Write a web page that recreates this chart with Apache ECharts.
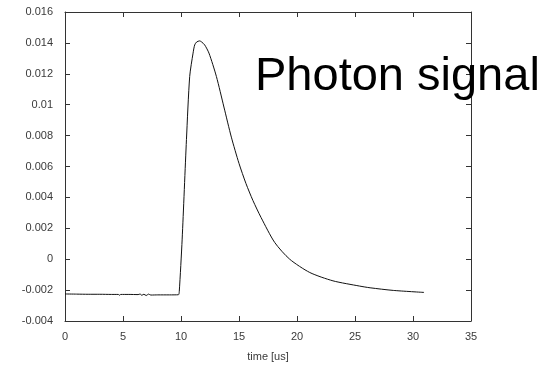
<!DOCTYPE html>
<html>
<head>
<meta charset="utf-8">
<script src="https://cdn.jsdelivr.net/npm/echarts@6/dist/echarts.min.js"></script>
<style>html,body{margin:0;padding:0;background:#fff}#c{width:550px;height:367px}</style>
</head>
<body>
<div id="c"></div>
<script>
var timeUs = [0, 1, 2, 3, 4, 4.6, 4.7, 4.8, 5.5, 6.3, 6.5, 6.6, 6.8, 7.0, 7.2, 7.4, 8, 9, 9.78,
  9.85, 10.1, 10.47, 10.75, 11.04, 11.18, 11.35, 11.61, 11.78, 12.04, 12.41, 13.05, 13.7, 14.34,
  15.0, 15.6, 16.2, 16.9, 18.08, 19.37, 21.1, 23.1, 25.4, 26.3, 28.3, 30.95];
var signal = [-0.00225, -0.00226, -0.00227, -0.00227, -0.00228, -0.00228, -0.00233, -0.00228, -0.00228, -0.00229, -0.00225, -0.00234, -0.00227, -0.00235, -0.00226, -0.00232, -0.00231, -0.00231, -0.0023,
  -0.0021, 0.0013, 0.00774, 0.01183, 0.01334, 0.01387, 0.01406, 0.01413, 0.01406, 0.01387, 0.01334, 0.01183, 0.00985, 0.0079,
  0.0062, 0.0049, 0.0038, 0.0027, 0.00108, 0.0, -0.00086, -0.0014, -0.00174, -0.00185, -0.00202, -0.00215];
var xTicks = [0, 5, 10, 15, 20, 25, 30, 35];
var yTicks = [-0.004, -0.002, 0, 0.002, 0.004, 0.006, 0.008, 0.01, 0.012, 0.014, 0.016];
var xTitle = 'time [us]';
var annotation = 'Photon signal';

var pts = timeUs.map(function (t, i) { return [t, signal[i]]; });
var chart = echarts.init(document.getElementById('c'), null, {renderer: 'canvas'});
var lineC = '#333';
var labC = '#3a3a3a';
var font = 'Liberation Sans';
function fmtY(v) {
  return (Math.round(v * 1000) / 1000).toString();
}
chart.setOption({
  animation: false,
  backgroundColor: '#fff',
  grid: {left: 65, right: 79, top: 12, bottom: 45},
  xAxis: [{
    type: 'value', min: xTicks[0], max: xTicks[xTicks.length - 1], interval: 5,
    name: xTitle, nameLocation: 'middle', nameGap: 30,
    nameTextStyle: {color: labC, fontSize: 11, fontFamily: font},
    axisLine: {show: true, onZero: false, lineStyle: {color: lineC, width: 1}},
    axisTick: {show: true, inside: true, length: 5, lineStyle: {color: lineC}},
    axisLabel: {color: labC, fontSize: 11, fontFamily: font, margin: 10},
    splitLine: {show: false}
  }, {
    type: 'value', position: 'top', min: xTicks[0], max: xTicks[xTicks.length - 1], interval: 5,
    axisLine: {show: true, onZero: false, lineStyle: {color: lineC, width: 1}},
    axisTick: {show: true, inside: true, length: 5, lineStyle: {color: lineC}},
    axisLabel: {show: false}, splitLine: {show: false}
  }],
  yAxis: [{
    type: 'value', min: yTicks[0], max: yTicks[yTicks.length - 1], interval: 0.002,
    axisLine: {show: true, onZero: false, lineStyle: {color: lineC, width: 1}},
    axisTick: {show: true, inside: true, length: 5, lineStyle: {color: lineC}},
    axisLabel: {color: labC, fontSize: 11, fontFamily: font, margin: 12, formatter: fmtY},
    splitLine: {show: false}
  }, {
    type: 'value', position: 'right', min: yTicks[0], max: yTicks[yTicks.length - 1], interval: 0.002,
    axisLine: {show: true, onZero: false, lineStyle: {color: lineC, width: 1}},
    axisTick: {show: true, inside: true, length: 5, lineStyle: {color: lineC}},
    axisLabel: {show: false}, splitLine: {show: false}
  }],
  series: [{
    type: 'line', data: pts, xAxisIndex: 0, yAxisIndex: 0,
    showSymbol: false, smooth: 0.25,
    lineStyle: {color: '#111', width: 1}
  }],
  graphic: [{
    type: 'text', left: 255, top: 54, z: 100,
    style: {text: annotation, font: '47px "Liberation Sans", Arial, sans-serif', fill: '#000'}
  }]
});
</script>
</body>
</html>
